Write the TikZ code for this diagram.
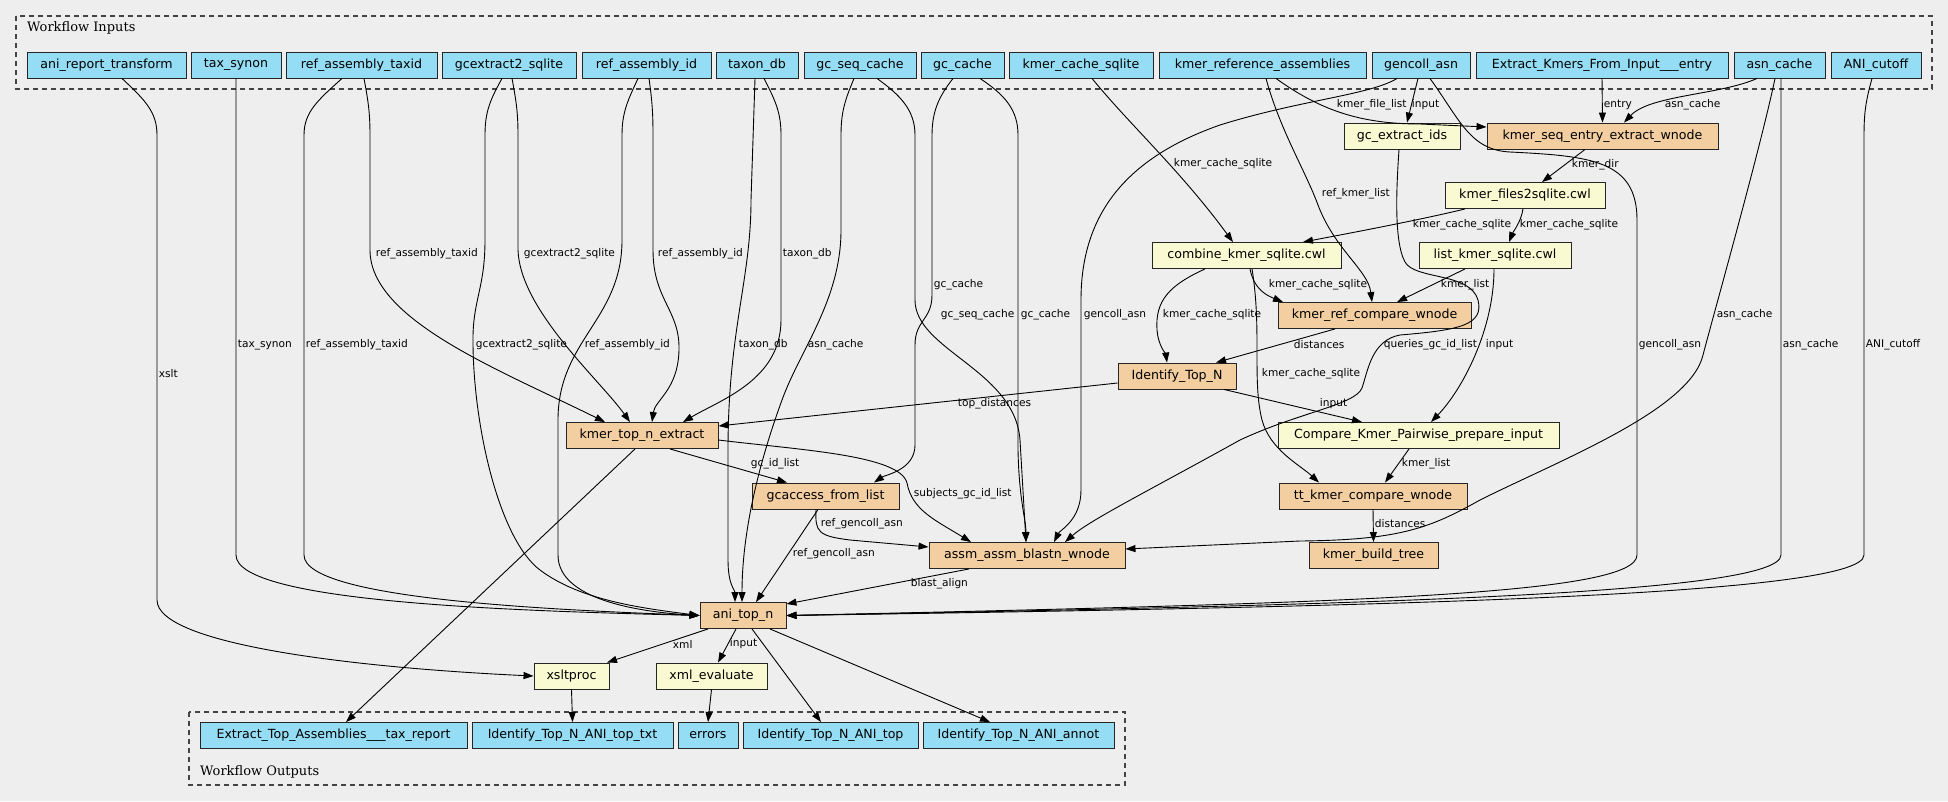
\documentclass[tikz,border=0pt]{standalone}
\usepackage{fontspec}
\newfontfamily\dvsans{DejaVu Sans}
\newfontfamily\dvserif{DejaVu Serif}
\usetikzlibrary{arrows.meta}
\newcommand{\nodefont}{\dvsans\fontsize{12.6}{14}\selectfont}
\newcommand{\labfont}{\dvsans\fontsize{10.6}{12}\selectfont}
\newcommand{\clufont}{\dvserif\fontsize{13}{15}\selectfont}

\begin{document}
\begin{tikzpicture}[x=1pt,y=-1pt,
                box/.style={draw=black!85, line width=0.9pt, minimum height=26, inner sep=0, font=\nodefont},
                inp/.style={box, fill=inblue},
                tool/.style={box, fill=toolyel},
                wf/.style={box, fill=wforange},
                lbl/.style={anchor=west, inner sep=0.5pt, font=\labfont},
                clu/.style={draw=clugray, line width=1.1pt, dash pattern=on 5pt off 4pt},
                flow/.style={-{Triangle[length=10pt,width=7pt]}, line width=0.9pt}]
                \definecolor{bggray}{HTML}{EEEEEE}
                \definecolor{inblue}{HTML}{94DDF4}
                \definecolor{toolyel}{HTML}{FAFAD2}
                \definecolor{wforange}{HTML}{F3CEA1}
                \definecolor{clugray}{HTML}{444444}
                \useasboundingbox (0,0) rectangle (1948,801);
                \fill[bggray] (0,0) rectangle (1948,801);
                \draw[clu] (16,16) rectangle (1932,89);
                \node[anchor=west, inner sep=0, font=\clufont] (inlab) at (27,28) {Workflow Inputs};
                \draw[clu] (189,712) rectangle (1125,785);
                \node[anchor=west, inner sep=0, font=\clufont] (outlab) at (200,772) {Workflow Outputs};
                \foreach \nm/\cx/\w/\txt in {art/106.5/159/ani\_report\_transform, tsy/236/90/tax\_synon,
                    rat/361.5/151/ref\_assembly\_taxid, gcx/509/134/gcextract2\_sqlite,
                    rai/646.5/129/ref\_assembly\_id, tdb/757/82/taxon\_db, gsc/860/112/gc\_seq\_cache,
                    gcc/962.5/83/gc\_cache, kcs/1081/144/kmer\_cache\_sqlite,
                    kra/1262.5/207/kmer\_reference\_assemblies, gca/1421/98/gencoll\_asn,
                    eki/1602/252/Extract\_Kmers\_From\_Input\_\_\_entry, asc/1779.5/91/asn\_cache,
                    anic/1876/90/ANI\_cutoff}{
                \node[inp, minimum width=\w] (\nm) at (\cx,65) {\txt};
                }
                \foreach \nm/\cx/\w/\txt in {otax/333.5/267/Extract\_Top\_Assemblies\_\_\_tax\_report,
                    otxt/572.5/201/Identify\_Top\_N\_ANI\_top\_txt, oerr/708/60/errors,
                    otop/830.5/175/Identify\_Top\_N\_ANI\_top, oannot/1018.5/191/Identify\_Top\_N\_ANI\_annot}{
                \node[inp, minimum width=\w] (\nm) at (\cx,735.5) {\txt};
                }
                \node[tool, minimum width=116] (gcids) at (1402,136) {gc\_extract\_ids};
                \node[wf, minimum width=231] (kseq) at (1602.5,136) {kmer\_seq\_entry\_extract\_wnode};
                \node[tool, minimum width=160] (kf2s) at (1525,195.5) {kmer\_files2sqlite.cwl};
                \node[tool, minimum width=189] (combine) at (1246.5,255.5) {combine\_kmer\_sqlite.cwl};
                \node[tool, minimum width=152] (listk) at (1495,255.5) {list\_kmer\_sqlite.cwl};
                \node[wf, minimum width=193] (krefcmp) at (1374.5,315.5) {kmer\_ref\_compare\_wnode};
                \node[wf, minimum width=118] (idtopn) at (1177,376) {Identify\_Top\_N};
                \node[wf, minimum width=152] (ktopn) at (642,435.5) {kmer\_top\_n\_extract};
                \node[tool, minimum width=281] (cmpprep) at (1418.5,435.5) {Compare\_Kmer\_Pairwise\_prepare\_input};
                \node[wf, minimum width=147] (gcacc) at (825.5,496) {gcaccess\_from\_list};
                \node[wf, minimum width=188] (ttcmp) at (1373,496) {tt\_kmer\_compare\_wnode};
                \node[wf, minimum width=196] (blastn) at (1027,555.5) {assm\_assm\_blastn\_wnode};
                \node[wf, minimum width=129] (ktree) at (1373.5,555.5) {kmer\_build\_tree};
                \node[wf, minimum width=86] (anitop) at (743,615.5) {ani\_top\_n};
                \node[tool, minimum width=75] (xslt) at (571.5,676) {xsltproc};
                \node[tool, minimum width=111] (xmleval) at (711.5,676) {xml\_evaluate};
                \draw[flow] ([xshift=15.5]art.south) .. controls (145,100) and (157,112) .. (157,135) -- (157,600) .. controls (157,645) and (360,668) .. (xslt.west) node[lbl] (l-xslt) at (158,374) {xslt};
                \draw[flow] (tsy.south) -- (236,555) .. controls (236,603) and (520,611) .. (anitop.west) node[lbl] (l-tsy) at (237,345) {tax\_synon};
                \draw[flow] ([xshift=-19.5]rat.south) .. controls (318,100) and (304,112) .. (304,135) -- (304,555) .. controls (304,600) and (560,610) .. (anitop.west) node[lbl] (l-rat1) at (305,345) {ref\_assembly\_taxid};
                \draw[flow] ([xshift=2.5]rat.south) .. controls (368,100) and (370,112) .. (370,135) -- (370,250) .. controls (370,320) and (500,370) .. ([xshift=-37]ktopn.north) node[lbl] (l-rat2) at (375,254) {ref\_assembly\_taxid};
                \draw[flow] ([xshift=-7]gcx.south) .. controls (490,100) and (485,112) .. (485,135) -- (485,240) .. controls (485,290) and (472,300) .. (473,345) .. controls (474,430) and (500,540) .. (540,570) .. controls (580,600) and (640,608) .. (anitop.west) node[lbl] (l-gcx1) at (475,345) {gcextract2\_sqlite};
                \draw[flow] ([xshift=3]gcx.south) .. controls (516,100) and (518,112) .. (518,135) -- (518,250) .. controls (520,310) and (600,380) .. ([xshift=-12]ktopn.north) node[lbl] (l-gcx2) at (523,254) {gcextract2\_sqlite};
                \draw[flow] ([xshift=-8.5]rai.south) .. controls (628,100) and (622,112) .. (622,135) -- (622,240) .. controls (622,320) and (558,340) .. (558,420) -- (558,555) .. controls (558,600) and (640,612) .. (anitop.west) node[lbl] (l-rai1) at (584,345) {ref\_assembly\_id};
                \draw[flow] ([xshift=2.5]rai.south) .. controls (652,100) and (653,112) .. (653,135) -- (653,250) .. controls (653,300) and (680,310) .. (679,350) .. controls (678,390) and (655,400) .. ([xshift=10]ktopn.north) node[lbl] (l-rai2) at (657,254) {ref\_assembly\_id};
                \draw[flow] ([xshift=7]tdb.south) .. controls (775,100) and (781,112) .. (781,135) -- (781,320) .. controls (781,380) and (720,400) .. ([xshift=41]ktopn.north) node[lbl] (l-tdb1) at (782,254) {taxon\_db};
                \draw[flow] ([xshift=-2]tdb.south) -- (751,200) .. controls (751,280) and (728,330) .. (728,450) -- (728,560) .. controls (728,585) and (735,590) .. ([xshift=-8]anitop.north) node[lbl] (l-tdb2) at (738,345) {taxon\_db};
                \draw[flow] ([xshift=-6]gsc.south) .. controls (845,100) and (841,112) .. (841,135) -- (841,230) .. controls (841,300) and (800,350) .. (782,400) .. controls (760,460) and (742,530) .. ([xshift=-1]anitop.north) node[lbl] (l-gsc1) at (807,345) {asn\_cache};
                \draw[flow] ([xshift=17]gsc.south) .. controls (900,95) and (915,110) .. (915,135) -- (915,300) .. controls (915,350) and (1015,370) .. (1020,440) -- ([xshift=-1]blastn.north) node[lbl] (l-gsc2) at (940,315) {gc\_seq\_cache};
                \draw[flow] ([xshift=-9.5]gcc.south) .. controls (940,95) and (932,110) .. (932,135) -- (932,295) .. controls (932,320) and (915,320) .. (915,345) -- (915,445) .. controls (915,470) and (885,475) .. ([xshift=48.5]gcacc.north) node[lbl] (l-gcc1) at (933,285) {gc\_cache};
                \draw[flow] ([xshift=17.5]gcc.south) .. controls (1005,95) and (1018,110) .. (1018,135) -- (1018,450) .. controls (1019,500) and (1026,520) .. ([xshift=-1]blastn.north) node[lbl] (l-gcc2) at (1020,315) {gc\_cache};
                \draw[flow] ([xshift=11]kcs.south) .. controls (1130,125) and (1180,170) .. ([xshift=-13.5]combine.north) node[lbl] (l-kcs) at (1173,164) {kmer\_cache\_sqlite};
                \draw[flow] ([xshift=3.5]kra.south) .. controls (1280,130) and (1305,170) .. (1318,205) .. controls (1335,250) and (1368,270) .. ([xshift=-2.5]krefcmp.north) node[lbl] (l-kra1) at (1321,194) {ref\_kmer\_list};
                \draw[flow] ([xshift=13.5]kra.south) .. controls (1320,110) and (1360,124) .. (1420,124) -- ([yshift=9]kseq.west) node[lbl] (l-kra2) at (1336,105) {kmer\_file\_list};
                \draw[flow] ([xshift=-3]gca.south) -- ([xshift=5]gcids.north) node[lbl] (l-gca1) at (1411,105) {input};
                \draw[flow] ([xshift=-24]gca.south) .. controls (1370,95) and (1300,100) .. (1220,125) .. controls (1120,160) and (1081,220) .. (1081,300) -- (1081,490) .. controls (1081,520) and (1060,530) .. ([xshift=27]blastn.north) node[lbl] (l-gca2) at (1083,315) {gencoll\_asn};
                \draw[flow] ([xshift=9]gca.south) .. controls (1460,120) and (1470,150) .. (1510,152) .. controls (1590,156) and (1637,160) .. (1637,220) -- (1637,555) .. controls (1637,595) and (1350,603) .. (anitop.east) node[lbl] (l-gca3) at (1638,345) {gencoll\_asn};
                \draw[flow] (eki.south) -- (kseq.north) node[lbl] (l-eki) at (1603,105) {entry};
                \draw[flow] ([xshift=-22.5]asc.south) .. controls (1720,95) and (1650,95) .. ([xshift=21.5]kseq.north) node[lbl] (l-asc1) at (1664,105) {asn\_cache};
                \draw[flow] ([xshift=-4.5]asc.south) .. controls (1760,150) and (1712,320) .. (1703,355) .. controls (1690,410) and (1560,460) .. (1480,500) .. controls (1430,528) and (1400,540) .. (1300,541) -- ([yshift=6.5]blastn.east) node[lbl] (l-asc2) at (1716,315) {asn\_cache};
                \draw[flow] ([xshift=1.5]asc.south) -- (1781,555) .. controls (1781,595) and (1350,605) .. (anitop.east) node[lbl] (l-asc3) at (1782,345) {asn\_cache};
                \draw[flow] ([xshift=-4]anic.south) .. controls (1866,100) and (1864,112) .. (1864,135) -- (1864,555) .. controls (1864,597) and (1350,607) .. (anitop.east) node[lbl] (l-anic) at (1865,345) {ANI\_cutoff};
                \draw[flow] ([xshift=-17.5]kseq.south) -- ([xshift=17]kf2s.north) node[lbl] (l-kseq) at (1571,165) {kmer\_dir};
                \draw[flow] ([xshift=-60]kf2s.south) .. controls (1420,220) and (1340,235) .. ([xshift=56.5]combine.north) node[lbl] (l-kf2s1) at (1412,225) {kmer\_cache\_sqlite};
                \draw[flow] ([xshift=-2]kf2s.south) .. controls (1521,222) and (1513,232) .. ([xshift=14]listk.north) node[lbl] (l-kf2s2) at (1519,225) {kmer\_cache\_sqlite};
                \draw[flow] ([xshift=-30]listk.south) -- ([xshift=22.5]krefcmp.north) node[lbl] (l-listk1) at (1440,285) {kmer\_list};
                \draw[flow] ([xshift=-1]listk.south) .. controls (1494,330) and (1462,390) .. ([xshift=12.5]cmpprep.north) node[lbl] (l-listk2) at (1485,345) {input};
                \draw[flow] ([xshift=3.5]combine.south) .. controls (1254,290) and (1268,296) .. ([xshift=-91.5]krefcmp.north) node[lbl] (l-comb1) at (1268,285) {kmer\_cache\_sqlite};
                \draw[flow] ([xshift=-41.5]combine.south) .. controls (1170,285) and (1155,300) .. (1157,330) .. controls (1158,345) and (1166,355) .. ([xshift=-10]idtopn.north) node[lbl] (l-comb2) at (1162,315) {kmer\_cache\_sqlite};
                \draw[flow] ([xshift=5.5]combine.south) .. controls (1262,330) and (1252,380) .. (1262,420) .. controls (1270,450) and (1300,465) .. ([xshift=-54]ttcmp.north) node[lbl] (l-comb3) at (1261,374) {kmer\_cache\_sqlite};
                \draw[flow] ([xshift=-39.5]krefcmp.south) -- ([xshift=39]idtopn.north) node[lbl] (l-kref) at (1293,345) {distances};
                \draw[flow] ([yshift=-7]idtopn.west) -- ([yshift=9.5]ktopn.east) node[lbl] (l-idt1) at (957,404) {top\_distances};
                \draw[flow] ([xshift=47]idtopn.south) -- ([xshift=-56.5]cmpprep.north) node[lbl] (l-idt2) at (1319,404) {input};
                \draw[flow] ([xshift=-9.5]cmpprep.south) -- ([xshift=12]ttcmp.north) node[lbl] (l-cmp) at (1401,464) {kmer\_list};
                \draw[flow] (ttcmp.south) -- (ktree.north) node[lbl] (l-tt) at (1374,524) {distances};
                \draw[flow] ([xshift=28]ktopn.south) -- ([xshift=-38.5]gcacc.north) node[lbl] (l-ktop1) at (750,464) {gc\_id\_list};
                \draw[flow] ([yshift=-4.5]ktopn.east) .. controls (800,450) and (900,455) .. (907,483) .. controls (912,510) and (935,520) .. ([xshift=-56]blastn.north) node[lbl] (l-ktop2) at (913,494) {subjects\_gc\_id\_list};
                \draw[flow] ([xshift=-7]ktopn.south) -- ([xshift=12.5]otax.north);
                \draw[flow] ([xshift=-9.5]gcacc.south) .. controls (815,532) and (818,536) .. (850,540) -- ([yshift=8.5]blastn.west) node[lbl] (l-gcacc1) at (820,524) {ref\_gencoll\_asn};
                \draw[flow] ([xshift=-7.5]gcacc.south) -- ([xshift=13]anitop.north) node[lbl] (l-gcacc2) at (792,554) {ref\_gencoll\_asn};
                \draw[flow] ([xshift=-58]blastn.south) -- ([yshift=11.5]anitop.east) node[lbl] (l-blast) at (910,584) {blast\_align};
                \draw[flow] ([xshift=-3]gcids.south) .. controls (1397,180) and (1393,240) .. (1405,262) .. controls (1415,280) and (1470,272) .. (1478,300) .. controls (1484,325) and (1460,330) .. (1400,335) .. controls (1372,340) and (1368,370) .. (1362,388) .. controls (1355,405) and (1300,412) .. (1240,440) .. controls (1150,490) and (1090,520) .. ([xshift=38]blastn.north) node[lbl] (l-gcids) at (1383,345) {queries\_gc\_id\_list};
                \draw[flow] ([xshift=-35]anitop.south) -- ([xshift=35.5]xslt.north) node[lbl] (l-ani1) at (672,644) {xml};
                \draw[flow] ([xshift=-7]anitop.south) -- ([xshift=6.5]xmleval.north) node[lbl] (l-ani2) at (729,644) {input};
                \draw[flow] ([xshift=9]anitop.south) -- ([xshift=-9.5]otop.north);
                \draw[flow] ([xshift=27]anitop.south) -- ([xshift=-28.5]oannot.north);
                \draw[flow] (xslt.south) -- (otxt.north);
                \draw[flow] (xmleval.south) -- (oerr.north);
            \end{tikzpicture}
\end{document}
